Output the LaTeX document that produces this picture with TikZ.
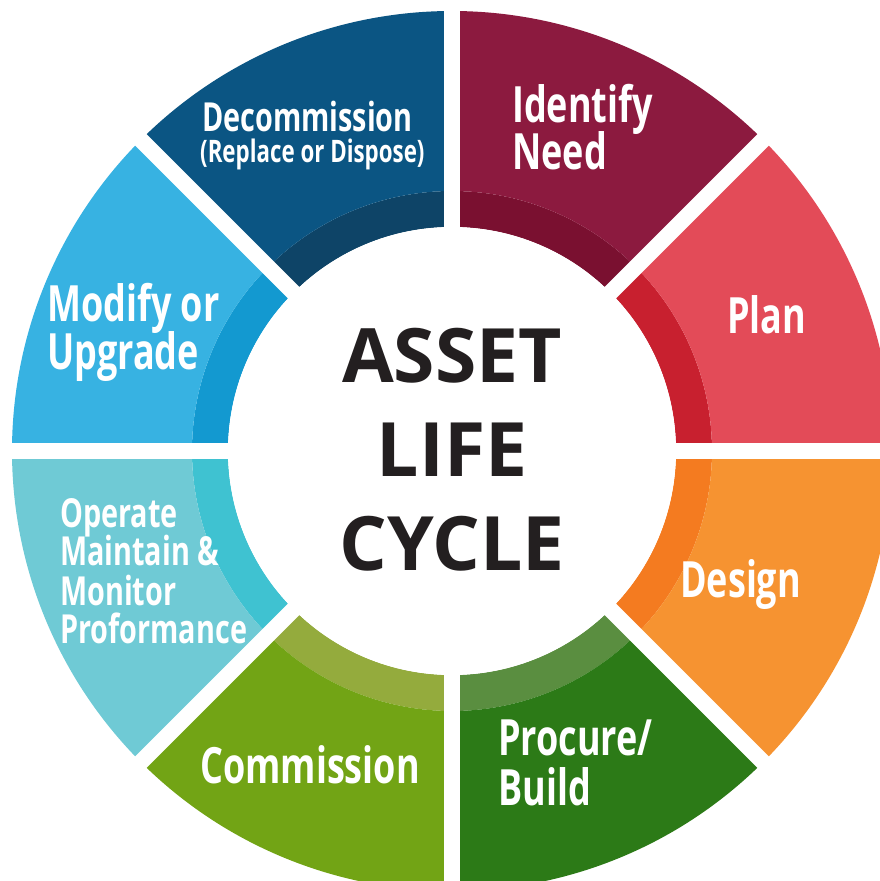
\documentclass[tikz,border=0pt]{standalone}
\usepackage{fontspec}
\setmainfont{Open Sans}
\newfontfamily\segfont[FakeStretch=0.72]{Open Sans}
\newfontfamily\hubfont{Open Sans}

\definecolor{plan}{HTML}{E34B58}
\definecolor{planband}{HTML}{C8202F}
\definecolor{need}{HTML}{8C1A3F}
\definecolor{needband}{HTML}{7A1030}
\definecolor{decom}{HTML}{0B5583}
\definecolor{decomband}{HTML}{0E4467}
\definecolor{modify}{HTML}{37B2E2}
\definecolor{modifyband}{HTML}{1399D0}
\definecolor{operate}{HTML}{6FCAD5}
\definecolor{operateband}{HTML}{3FC2D1}
\definecolor{commission}{HTML}{72A415}
\definecolor{commissionband}{HTML}{94AB3D}
\definecolor{procure}{HTML}{2C7A17}
\definecolor{procureband}{HTML}{5A8E40}
\definecolor{design}{HTML}{F69331}
\definecolor{designband}{HTML}{F47B20}
\definecolor{hubtext}{HTML}{231F20}

\tikzset{
  seglabel/.style={anchor=base west, inner sep=0pt, text=white,
    font=\segfont\bfseries\fontsize{50}{50}\selectfont},
  smalllabel/.style={seglabel, font=\segfont\bfseries\fontsize{40}{40}\selectfont},
  hublabel/.style={anchor=base, inner sep=0pt, text=hubtext,
    font=\hubfont\bfseries\fontsize{75}{75}\selectfont}
}

\begin{document}
\begin{tikzpicture}[x=1pt,y=1pt]
\useasboundingbox (-452,-430) rectangle (428,451);
\coordinate (c) at (0,0);

\begin{scope}
\clip (-452,-430) rectangle (428,451);
% ring segments: inner band + outer part
\foreach \a/\main/\band in {0/plan/planband, 45/need/needband, 90/decom/decomband,
    135/modify/modifyband, 180/operate/operateband, 225/commission/commissionband,
    270/procure/procureband, 315/design/designband}{
  \fill[\band] (\a:224) arc[start angle=\a, end angle=\a+45, radius=224]
    -- (\a+45:260) arc[start angle=\a+45, end angle=\a, radius=260] -- cycle;
  \fill[\main] (\a:260) arc[start angle=\a, end angle=\a+45, radius=260]
    -- (\a+45:440) arc[start angle=\a+45, end angle=\a, radius=440] -- cycle;
}
% white gaps between segments
\foreach \a in {0,45,...,315}
  \draw[white, line width=16pt] (c) -- (\a:470);
\fill[white] (c) circle[radius=224];
\end{scope}

% Text Node
\node[hublabel] (asset) at (0,68) {ASSET};
\node[hublabel] (life) at (0,-25) {LIFE};
\node[hublabel] (cycle) at (0,-119) {CYCLE};

% Text Node
\node[seglabel] (identify) at (60,328) {Identify};
\node[seglabel] (need) at (60,281) {Need};
% Text Node
\node[seglabel] (plan) at (275,117) {Plan};
% Text Node
\node[seglabel] (design) at (228,-146) {Design};
% Text Node
\node[seglabel] (procure) at (46,-304) {Procure/};
\node[seglabel] (build) at (46,-354) {Build};
% Text Node
\node[seglabel] (commission) at (-252,-332) {Commission};
% Text Node
\node[smalllabel] (operate) at (-392,-76) {Operate};
\node[smalllabel] (maintain) at (-392,-114) {Maintain \&};
\node[smalllabel] (monitor) at (-392,-154) {Monitor};
\node[smalllabel] (proformance) at (-392,-192) {Proformance};
% Text Node
\node[seglabel] (modify) at (-405,129) {Modify or};
\node[seglabel] (upgrade) at (-405,81) {Upgrade};
% Text Node
\node[smalllabel] (decom) at (-250,319) {Decommission};
\node[smalllabel, font=\segfont\bfseries\fontsize{31}{31}\selectfont] (dispose) at (-252,288) {(Replace or Dispose)};

\end{tikzpicture}
\end{document}
